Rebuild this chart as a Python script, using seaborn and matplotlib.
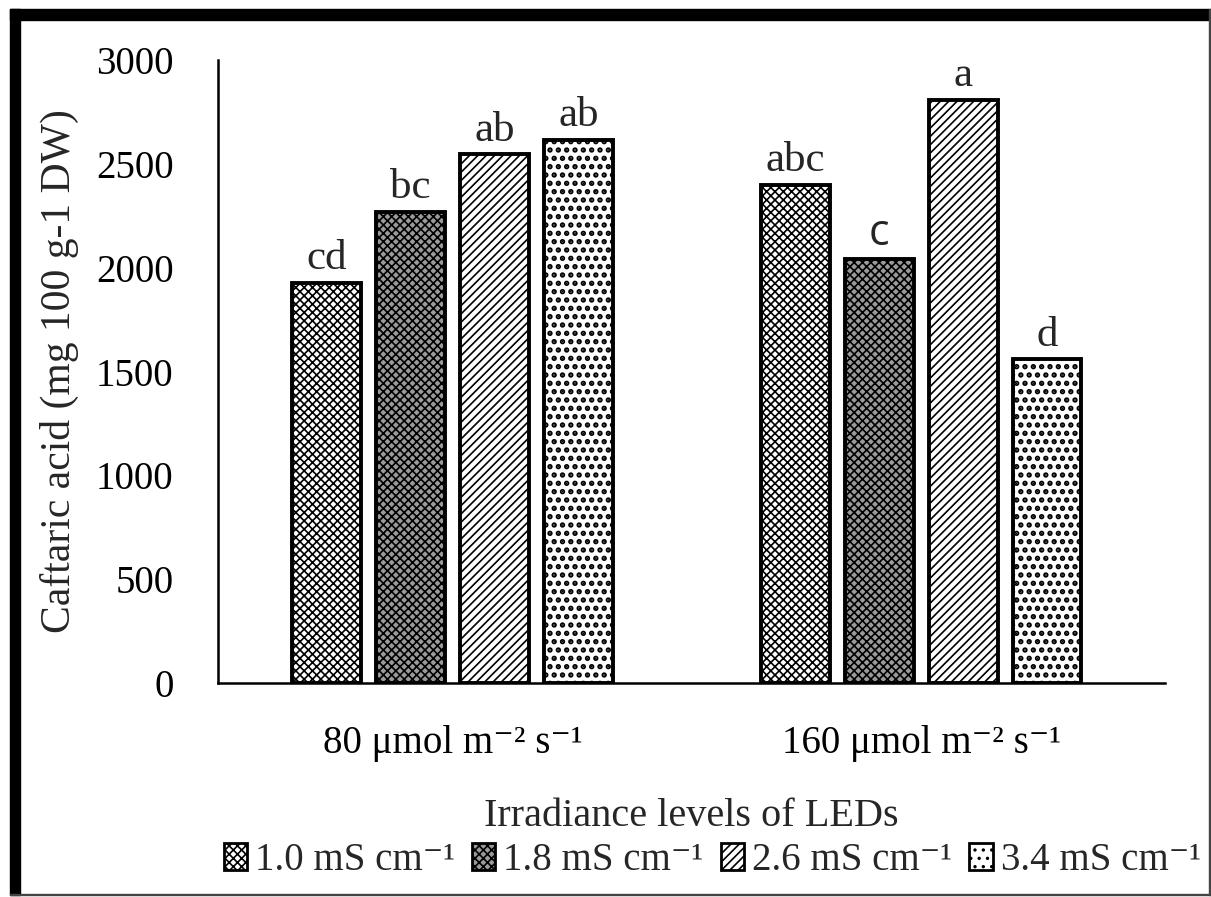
import matplotlib
matplotlib.use("Agg")
import matplotlib.pyplot as plt
from matplotlib.patches import Patch, Rectangle
import seaborn as sns
import pandas as pd

# ---- data -------------------------------------------------------------
irradiance = ["80 μmol m⁻² s⁻¹", "160 μmol m⁻² s⁻¹"]
conductivity = ["1.0 mS cm⁻¹", "1.8 mS cm⁻¹", "2.6 mS cm⁻¹", "3.4 mS cm⁻¹"]
ec_1_0 = [1925, 2400]
ec_1_8 = [2270, 2044]
ec_2_6 = [2545, 2809]
ec_3_4 = [2617, 1558]
letters_1_0 = ["cd", "abc"]
letters_1_8 = ["bc", "c"]
letters_2_6 = ["ab", "a"]
letters_3_4 = ["ab", "d"]

series = [ec_1_0, ec_1_8, ec_2_6, ec_3_4]
letters = [letters_1_0, letters_1_8, letters_2_6, letters_3_4]

rows = []
for ec, vals in zip(conductivity, series):
    for irr, v in zip(irradiance, vals):
        rows.append({"Irradiance": irr, "EC": ec, "Caftaric": v})
df = pd.DataFrame(rows)

# ---- style ------------------------------------------------------------
sns.set_style("white")
plt.rcParams["font.family"] = ["Liberation Serif", "DejaVu Serif"]
plt.rcParams["hatch.linewidth"] = 1.2

fill_colors = ["#ffffff", "#9a9a9a", "#ffffff", "#ffffff"]
hatches = ["xxxx", "xxxx", "////", ".."]
hatch_widths = [1.2, 1.2, 1.2, 2.6]


def style_patch(p, fc, h, hw, lw):
    p.set_facecolor(fc)
    p.set_edgecolor("black")
    p.set_linewidth(lw)
    p.set_hatch(h)
    if hasattr(p, "set_hatch_linewidth"):
        p.set_hatch_linewidth(hw)


fig = plt.figure(figsize=(12.11, 8.97), dpi=100)
ax = fig.add_axes([218 / 1211, 1 - 683 / 897, (1165 - 218) / 1211, (683 - 60) / 897])

sns.barplot(data=df, x="Irradiance", y="Caftaric", hue="EC",
            order=irradiance, hue_order=conductivity,
            width=0.716, gap=0.18, legend=False, ax=ax)

for cont, fc, h, hw, labs in zip(ax.containers, fill_colors, hatches, hatch_widths, letters):
    for bar, lab in zip(cont.patches, labs):
        style_patch(bar, fc, h, hw, 2.8)
        fam = ["Open Sans", "DejaVu Sans"] if lab == "c" else ["Liberation Serif", "DejaVu Serif"]
        ax.annotate(lab, (bar.get_x() + bar.get_width() / 2, bar.get_height()),
                    xytext=(0, 10), textcoords="offset points",
                    ha="center", va="baseline", fontsize=31, family=fam)

ax.set_ylim(0, 3000)
ax.set_xlim(-0.5, 1.52)
ax.set_yticks([0, 500, 1000, 1500, 2000, 2500, 3000])
ax.tick_params(axis="both", length=0, labelsize=28, colors="black")
ax.tick_params(axis="y", pad=32)
ax.tick_params(axis="x", pad=30)

for side in ("top", "right"):
    ax.spines[side].set_visible(False)
for side in ("left", "bottom"):
    ax.spines[side].set_color("black")
    ax.spines[side].set_linewidth(1.8)

ax.set_ylabel("Caftaric acid (mg 100 g-1 DW)", fontsize=30, labelpad=12)
ax.set_xlabel("Irradiance levels of LEDs", fontsize=29, labelpad=26)

handles = []
for fc, h, hw in zip(fill_colors, hatches, hatch_widths):
    p = Patch()
    style_patch(p, fc, h, hw, 2.0)
    handles.append(p)
fig.legend(handles, conductivity, loc="center", bbox_to_anchor=(0.588, 0.041),
           ncol=4, frameon=False, fontsize=28, handlelength=0.6, handleheight=0.7,
           handletextpad=0.2, columnspacing=0.45, borderpad=0)

# figure frame: heavy left/top edges, thin right/bottom edges
W, H = 1211, 897
fig.patches.append(Rectangle((10 / W, 1 - 895 / H), 10 / W, (895 - 9) / H,
                             transform=fig.transFigure, color="black", zorder=10))
fig.patches.append(Rectangle((10 / W, 1 - 20 / H), (W - 10) / W, 11 / H,
                             transform=fig.transFigure, color="black", zorder=10))
fig.patches.append(Rectangle((1208.5 / W, 1 - 895 / H), 1.5 / W, (895 - 9) / H,
                             transform=fig.transFigure, color="#444444", zorder=10))
fig.patches.append(Rectangle((10 / W, 1 - 895 / H), (W - 10) / W, 1.5 / H,
                             transform=fig.transFigure, color="#444444", zorder=10))

fig.savefig("out.png", dpi=100)
